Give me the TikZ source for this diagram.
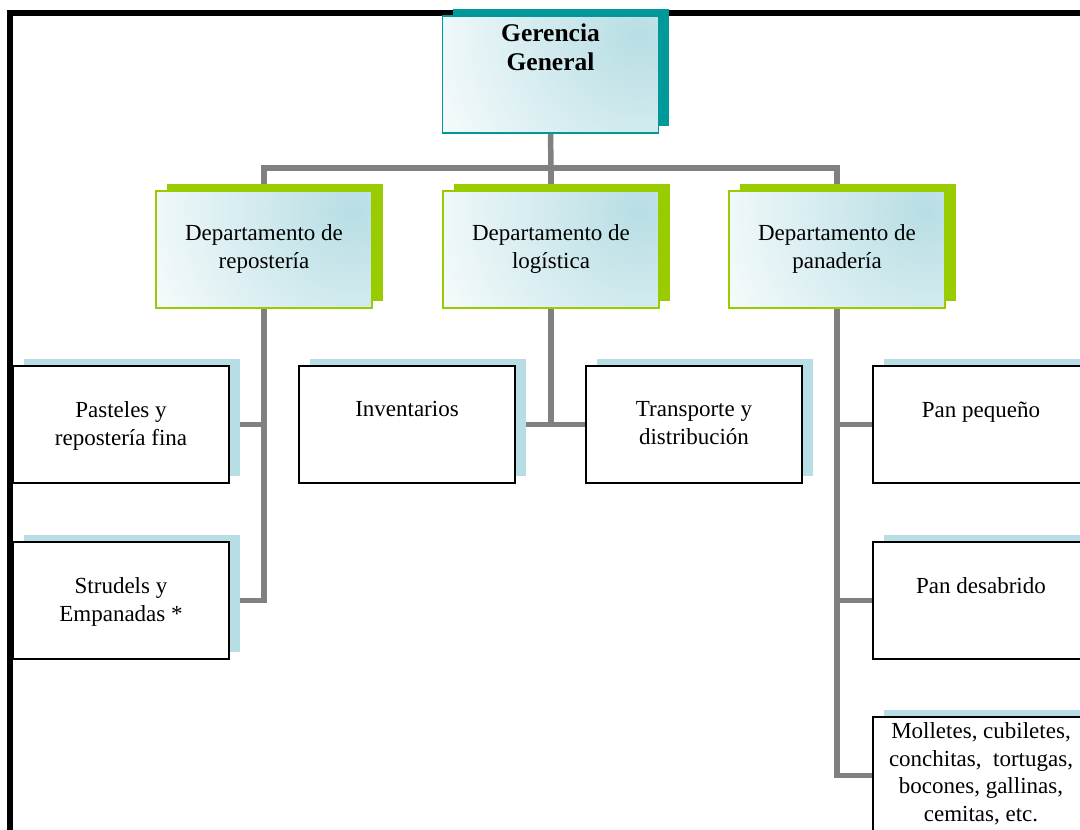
\documentclass[tikz,border=0pt]{standalone}
\usepackage{fontspec}
\setmainfont{Liberation Serif}
\usetikzlibrary{shadows,backgrounds,calc}
\definecolor{lb}{RGB}{183,222,228}
\definecolor{tealc}{RGB}{0,153,153}
\definecolor{greenc}{RGB}{153,204,0}
\definecolor{connc}{RGB}{128,128,128}
\tikzset{
  box/.style={rectangle, minimum width=216pt, minimum height=117pt, inner sep=0pt, outer sep=0pt},
  gradfill/.style={path picture={\shade[inner color=lb, outer color=white]
      ($(path picture bounding box.north east)+(-20,20)$) circle (250pt);}},
  topbox/.style={box, draw=tealc, line width=1.5pt, gradfill,
      drop shadow={shadow xshift=10.5pt, shadow yshift=7.5pt, fill=tealc, opacity=1}},
  deptbox/.style={box, draw=greenc, line width=1.5pt, gradfill,
      drop shadow={shadow xshift=10.5pt, shadow yshift=7.5pt, fill=greenc, opacity=1}},
  leafbox/.style={box, draw=black, line width=2pt, fill=white,
      drop shadow={shadow xshift=10.5pt, shadow yshift=7.5pt, fill=lb, opacity=1}},
  txt/.style={anchor=north, align=center, inner sep=0pt, font=\fontsize{23}{27.5}\selectfont},
  conn/.style={draw=connc, line width=5.5pt, line join=miter},
  frameline/.style={draw=black, line width=6pt, line join=miter}
}
\begin{document}
\begin{tikzpicture}[x=1pt,y=-1pt]
\useasboundingbox (0,0) rectangle (1080,830);
% boxes
\node[topbox] (gg) at (550.5,74.5) {};
\node[deptbox] (rep) at (264,249.5) {};
\node[deptbox] (log) at (551,249.5) {};
\node[deptbox] (pan) at (837,249.5) {};
\node[leafbox] (pas) at (121,424.5) {};
\node[leafbox] (str) at (121,600.5) {};
\node[leafbox] (inv) at (407,424.5) {};
\node[leafbox] (tra) at (694,424.5) {};
\node[leafbox] (pp) at (981,424.5) {};
\node[leafbox] (pd) at (981,600.5) {};
\node[leafbox] (mol) at (981,775.5) {};
% texts
\node[txt, font=\bfseries\fontsize{25.5}{29}\selectfont] (ggt) at (550.5,23.5) {Gerencia\\General};
\node[txt] (rept) at (264,224.5) {Departamento de\\repostería};
\node[txt] (logt) at (551,224.5) {Departamento de\\logística};
\node[txt] (pant) at (837,224.5) {Departamento de\\panadería};
\node[txt] (past) at (121,401.5) {Pasteles y\\repostería fina};
\node[txt] (strt) at (121,577.5) {Strudels y\\Empanadas *};
\node[txt] (invt) at (407,401.5) {Inventarios};
\node[txt] (trat) at (694,401.5) {Transporte y\\distribución};
\node[txt] (ppt) at (981,401.5) {Pan pequeño};
\node[txt] (pdt) at (981,577.5) {Pan desabrido};
\node[txt] (molt) at (981,722.5) {Molletes, cubiletes,\\conchitas,~ tortugas,\\bocones, gallinas,\\cemitas, etc.};
\begin{scope}[on background layer]
  \clip (0,0) rectangle (1080,830);
  \draw[frameline] (10,860) -- (10,13) -- (1110,13);
  \coordinate (hub) at (551,168);
  \draw[conn] (gg.south) -- (hub);
  \draw[conn] (rep.north) |- (hub) -| (pan.north);
  \draw[conn] (hub) -- (log.north);
  \draw[conn] (rep.south) |- (pas.east);
  \draw[conn] (rep.south) |- (str.east);
  \draw[conn] (log.south) -- (log.south |- inv.east);
  \draw[conn] (inv.east) -- (tra.west);
  \draw[conn] (pan.south) |- (mol.west);
  \draw[conn] (pan.south |- pp.west) -- (pp.west);
  \draw[conn] (pan.south |- pd.west) -- (pd.west);
\end{scope}
\end{tikzpicture}
\end{document}
